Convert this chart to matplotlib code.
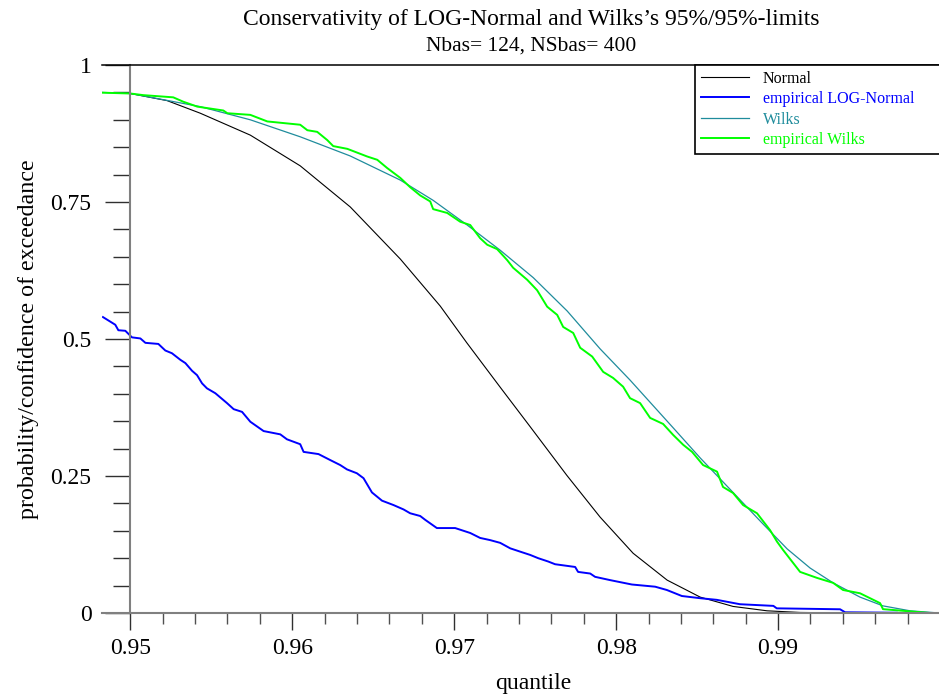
import numpy as np
import matplotlib
matplotlib.use("Agg")
import matplotlib.pyplot as plt
from matplotlib.ticker import MultipleLocator, FixedLocator, FixedFormatter

plt.rcParams['font.family'] = ['Liberation Serif', 'DejaVu Serif']

# Normal (smooth)
q_norm = [0.95, 0.95227, 0.95432, 0.95741, 0.96049, 0.96358, 0.96667, 0.96914,
          0.97078, 0.97284, 0.97469, 0.97696, 0.97901, 0.98105, 0.98315, 0.98519,
          0.98722, 0.98932, 0.99136, 0.99444, 0.99994]
p_norm = [0.948, 0.935, 0.912, 0.872, 0.816, 0.741, 0.646, 0.560,
          0.493, 0.412, 0.340, 0.251, 0.175, 0.109, 0.060, 0.029,
          0.012, 0.004, 0.001, 0.0, 0.0]

# Wilks (smooth)
q_wilks = [0.94827, 0.95, 0.95432, 0.95741, 0.96049, 0.96358, 0.96667, 0.9687,
           0.9708, 0.97284, 0.97488, 0.97698, 0.97901, 0.98086, 0.98352, 0.98519,
           0.98722, 0.98889, 0.99056, 0.99198, 0.9934, 0.99506, 0.99648, 0.99815,
           0.99994]
p_wilks = [0.950, 0.948, 0.924, 0.900, 0.869, 0.834, 0.790, 0.753,
           0.708, 0.662, 0.612, 0.551, 0.482, 0.425, 0.338, 0.283,
           0.220, 0.168, 0.117, 0.082, 0.055, 0.029, 0.013, 0.004,
           0.0]

# empirical LOG-Normal
q_elog = [0.94831, 0.94907, 0.94926, 0.94969, 0.9501, 0.95062, 0.95093, 0.95173,
          0.95216, 0.95257, 0.95309, 0.9534, 0.95381, 0.95412, 0.95443, 0.95473,
          0.95525, 0.95597, 0.95638, 0.9569, 0.95741, 0.95823, 0.95926, 0.95967,
          0.96049, 0.9607, 0.96162, 0.96235, 0.96296, 0.96338, 0.96399, 0.9644,
          0.96492, 0.96554, 0.96625, 0.96687, 0.96728, 0.9679, 0.96821, 0.96893,
          0.97006, 0.97099, 0.9716, 0.97222, 0.97284, 0.97346, 0.97407, 0.97469,
          0.97519, 0.9758, 0.97623, 0.97747, 0.97765, 0.9784, 0.9787, 0.97963,
          0.98097, 0.98241, 0.98313, 0.98406, 0.98519, 0.98622, 0.98765, 0.98971,
          0.98992, 0.99383, 0.99414, 0.99733]
p_elog = [0.540, 0.526, 0.516, 0.515, 0.503, 0.501, 0.493, 0.491,
          0.479, 0.474, 0.462, 0.456, 0.442, 0.434, 0.419, 0.410,
          0.401, 0.383, 0.372, 0.367, 0.349, 0.332, 0.326, 0.317,
          0.308, 0.294, 0.290, 0.279, 0.270, 0.262, 0.255, 0.246,
          0.220, 0.205, 0.197, 0.189, 0.182, 0.177, 0.170, 0.155,
          0.155, 0.146, 0.137, 0.133, 0.128, 0.118, 0.112, 0.106,
          0.100, 0.094, 0.089, 0.084, 0.075, 0.072, 0.066, 0.060,
          0.052, 0.048, 0.042, 0.031, 0.027, 0.024, 0.016, 0.013,
          0.0085, 0.0068, 0.0013, 0.0005]

# empirical Wilks
q_ewilks = [0.94825, 0.95, 0.9508, 0.95265, 0.95327, 0.95414, 0.95574, 0.95599,
            0.95741, 0.95846, 0.96049, 0.96093, 0.96154, 0.96216, 0.96253, 0.9634,
            0.96463, 0.96525, 0.96586, 0.96667, 0.96728, 0.9679, 0.96852, 0.9687,
            0.96957, 0.97037, 0.97099, 0.9716, 0.97204, 0.97265, 0.97327, 0.97364,
            0.97451, 0.97512, 0.97574, 0.97636, 0.97673, 0.97735, 0.97778, 0.97852,
            0.9792, 0.97981, 0.98043, 0.98086, 0.98148, 0.9821, 0.9829, 0.98352,
            0.98414, 0.98469, 0.98537, 0.98623, 0.9866, 0.98722, 0.98784, 0.9887,
            0.98951, 0.98994, 0.99031, 0.99136, 0.99241, 0.9934, 0.99401, 0.99506,
            0.9963, 0.99648, 0.99833, 0.99938]
p_ewilks = [0.9495, 0.948, 0.945, 0.941, 0.933, 0.924, 0.917, 0.912,
            0.909, 0.897, 0.891, 0.881, 0.878, 0.863, 0.852, 0.847,
            0.833, 0.827, 0.812, 0.794, 0.777, 0.762, 0.751, 0.737,
            0.730, 0.714, 0.708, 0.684, 0.672, 0.664, 0.644, 0.630,
            0.608, 0.589, 0.559, 0.544, 0.522, 0.511, 0.484, 0.468,
            0.440, 0.429, 0.413, 0.392, 0.383, 0.356, 0.345, 0.325,
            0.307, 0.294, 0.270, 0.258, 0.230, 0.219, 0.197, 0.182,
            0.151, 0.130, 0.115, 0.075, 0.064, 0.055, 0.042, 0.036,
            0.018, 0.007, 0.0025, 0.0]

xticks = [0.95, 0.96, 0.97, 0.98, 0.99]
xticklabels = ['0.95', '0.96', '0.97', '0.98', '0.99']
yticks = [0, 0.25, 0.5, 0.75, 1]
yticklabels = ['0', '0.25', '0.5', '0.75', '1']

W, H = 939, 697
fig = plt.figure(figsize=(W / 100, H / 100), dpi=100)
ax = fig.add_axes([102 / W, (H - 613) / H, (940 - 102) / W, (613 - 65) / H])

ax.plot(q_norm, p_norm, color='black', lw=0.8, label='Normal')
ax.plot(q_elog, p_elog, color='#0000ff', lw=1.4, label='empirical LOG-Normal')
ax.plot(q_wilks, p_wilks, color='#1f8c9c', lw=0.9, label='Wilks')
ax.plot(q_ewilks, p_ewilks, color='#00ff00', lw=1.4, label='empirical Wilks')

ax.set_xlim(0.94825, 1.0)
ax.set_ylim(0, 1)

ax.spines['left'].set_position(('data', 0.95))
ax.spines['left'].set_color('#808080')
ax.spines['left'].set_linewidth(1.5)
ax.spines['bottom'].set_color('#808080')
ax.spines['bottom'].set_linewidth(1.5)
ax.spines['top'].set_color('black')
ax.spines['top'].set_linewidth(1.1)
ax.spines['right'].set_visible(False)

ax.xaxis.set_major_locator(FixedLocator(xticks))
ax.xaxis.set_major_formatter(FixedFormatter(xticklabels))
ax.xaxis.set_minor_locator(MultipleLocator(0.002))
ax.yaxis.set_major_locator(FixedLocator(yticks))
ax.yaxis.set_major_formatter(FixedFormatter(yticklabels))
ax.yaxis.set_minor_locator(MultipleLocator(0.05))

ax.tick_params(axis='x', which='major', direction='out', length=12, width=1.0,
               color='#303030', labelsize=17, pad=6)
ax.tick_params(axis='x', which='minor', direction='out', length=8, width=1.0,
               color='#505050')
ax.tick_params(axis='y', which='major', direction='out', length=18, width=1.0,
               color='#303030', labelsize=17, pad=10)
ax.tick_params(axis='y', which='minor', direction='out', length=12, width=1.0,
               color='#303030')

fig.text(531 / W, 1 - 20 / H, "Conservativity of LOG-Normal and Wilks\u2019s 95%/95%-limits",
         ha='center', va='center', fontsize=17)
fig.text(531 / W, 1 - 46 / H, "Nbas= 124, NSbas= 400",
         ha='center', va='center', fontsize=15.5)
fig.text(533 / W, 1 - 684 / H, "quantile", ha='center', va='center', fontsize=17)
fig.text(29 / W, 1 - 339 / H, "probability/confidence of exceedance",
         ha='center', va='center', rotation=90, fontsize=17.3)

leg = ax.legend(loc='upper left', bbox_to_anchor=(695 / W, 0, 300 / W, 1 - 65 / H),
                bbox_transform=fig.transFigure, mode='expand', fontsize=11.5,
                frameon=True, fancybox=False, edgecolor='black', framealpha=1,
                handlelength=3.0, handletextpad=0.9, borderpad=0.35,
                labelspacing=0.28, borderaxespad=0, labelcolor='linecolor')
leg.get_frame().set_linewidth(1.2)

fig.savefig('out.png', dpi=100)
